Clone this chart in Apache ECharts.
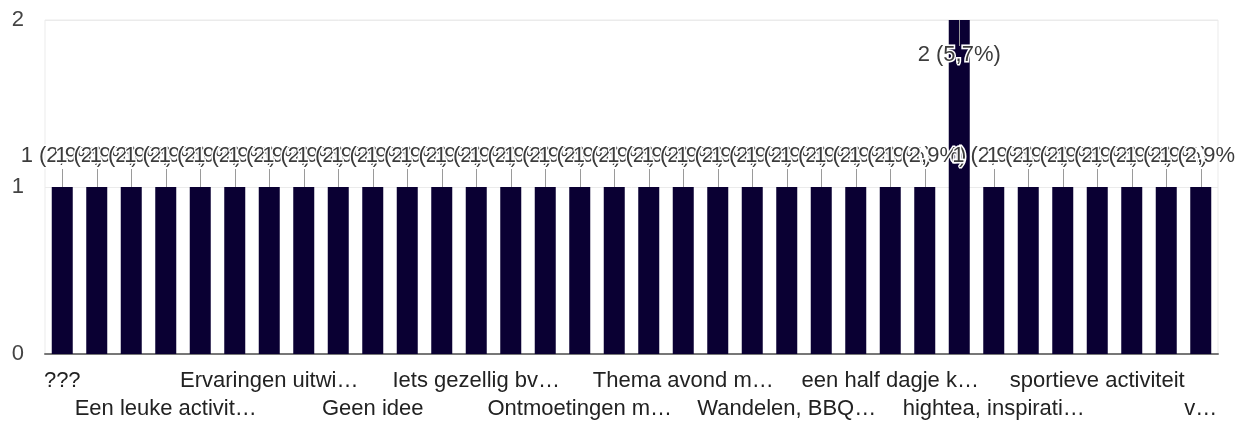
<!DOCTYPE html>
<html>
<head>
<meta charset="utf-8">
<script src="https://cdn.jsdelivr.net/npm/echarts@6/dist/echarts.min.js"></script>
<style>
  html, body { margin: 0; padding: 0; background: #fff; }
  #chart { width: 1235px; height: 421px; }
</style>
</head>
<body>
<div id="chart"></div>
<script>
// Answers to the open question, sorted alphabetically, with their counts.
const categories = [
  '???', 'Actief bezig zijn', 'Borrel', 'Een leuke activiteit met het team',
  'Een workshop', 'Escape room', 'Ervaringen uitwisselen met anderen', 'Etentje',
  'Excursie', 'Geen idee', 'Gezamenlijk diner', 'High tea',
  'Iets gezellig bv wandelen of borrelen', 'Kookworkshop', 'Lezing', 'Ontmoetingen met andere ouders',
  'Picknick', 'Spelletjesavond', 'Thema avond met een spreker', 'Uitje',
  'Vrijwilligerswerk', 'Wandelen, BBQ en picknick', 'Workshop', 'een etentje',
  'een half dagje kennismaken', 'gezellig samenzijn', 'gezellige borrel', 'hightea, inspiratiesessie',
  'kennis delen', 'netwerken', 'sportieve activiteit', 'uitje',
  'uitwisseling', 'vrijwilligerswerk samen doen'
];
const counts = [
  1, 1, 1, 1, 1, 1, 1, 1, 1, 1, 1, 1, 1, 1, 1, 1, 1,
  1, 1, 1, 1, 1, 1, 1, 1, 1, 2, 1, 1, 1, 1, 1, 1, 1
];
const yTicks = [0, 1, 2];

const W = 1235, H = 421;
const gridLeft = 45, gridRight = 17, gridTop = 20, gridBottom = 67;
const FONT = '"Liberation Sans", Arial, sans-serif';
const yMax = yTicks[yTicks.length - 1];
const total = counts.reduce((a, b) => a + b, 0);

function pct(v) {
  return (v / total * 100).toFixed(1).replace('.', ',');
}

// Truncate a label with an ellipsis so it fits the given width.
const measureCtx = document.createElement('canvas').getContext('2d');
measureCtx.font = '22px ' + FONT;
function fit(text, maxW) {
  if (measureCtx.measureText(text).width <= maxW) return text;
  let s = text;
  while (s.length > 1 && measureCtx.measureText(s + '…').width > maxW) s = s.slice(0, -1);
  return s.replace(/\s+$/, '') + '…';
}

// Every third category gets a label, alternating between two rows.
const LABEL_STEP = 3;
const slot = (W - gridLeft - gridRight) / categories.length;
const MAX_LABEL_W = 186.5;
const lastIndex = categories.length - 1;

function rowLabel(row) {
  return {
    interval: 0,
    showMinLabel: true,
    showMaxLabel: true,
    hideOverlap: false,
    margin: 16 + row * 28,
    fontSize: 22,
    color: '#222',
    fontFamily: FONT,
    formatter: (value, index) => {
      if (index % (LABEL_STEP * 2) !== row * LABEL_STEP) return '';
      return fit(value, index + LABEL_STEP > lastIndex ? slot : MAX_LABEL_W);
    }
  };
}

const barData = counts.map(v => v >= yMax
  ? { value: v, label: { position: 'insideTop', distance: 24 } }
  : v);

const chart = echarts.init(document.getElementById('chart'), null, { renderer: 'canvas' });
chart.setOption({
  animation: false,
  backgroundColor: '#fff',
  textStyle: { fontFamily: FONT },
  grid: {
    left: gridLeft, right: gridRight, top: gridTop, bottom: gridBottom,
    show: true, borderColor: '#ebebeb', borderWidth: 1
  },
  xAxis: [
    {
      type: 'category',
      data: categories,
      position: 'bottom',
      axisLine: { lineStyle: { color: '#777', width: 2 } },
      axisTick: { show: false },
      axisLabel: rowLabel(0)
    },
    {
      type: 'category',
      data: categories,
      position: 'bottom',
      axisLine: { show: false },
      axisTick: { show: false },
      splitLine: { show: false },
      axisLabel: rowLabel(1)
    }
  ],
  yAxis: {
    type: 'value',
    min: 0, max: yMax, interval: 1,
    axisLine: { show: false },
    axisTick: { show: false },
    splitLine: { lineStyle: { color: '#ebebeb', width: 1 } },
    axisLabel: {
      margin: 21, fontSize: 22, color: '#444', fontFamily: FONT,
      showMinLabel: true, showMaxLabel: true
    }
  },
  series: [
    {
      type: 'bar',
      xAxisIndex: 0,
      data: barData,
      barWidth: 21,
      z: 2,
      itemStyle: { color: '#0a0033' },
      label: {
        show: true,
        position: 'top',
        distance: 20,
        fontSize: 22,
        color: '#3c3c3c',
        fontFamily: FONT,
        textBorderColor: '#fff',
        textBorderWidth: 3,
        formatter: p => p.value + ' (' + pct(p.value) + '%)'
      }
    },
    {
      // annotation stems linking each value label to its bar
      type: 'custom',
      xAxisIndex: 0,
      silent: true,
      z: 3,
      data: counts.map((v, i) => [i, v]),
      renderItem: (params, api) => {
        const v = api.value(1);
        const p = api.coord([api.value(0), v]);
        const x = Math.round(p[0]) + 0.5;
        const y1 = v >= yMax ? p[1] : p[1] - 18;
        const y2 = v >= yMax ? p[1] + 26 : p[1];
        return {
          type: 'line',
          shape: { x1: x, y1: y1, x2: x, y2: y2 },
          style: { stroke: '#9a9a9a', lineWidth: 1 }
        };
      }
    }
  ]
});
</script>
</body>
</html>
